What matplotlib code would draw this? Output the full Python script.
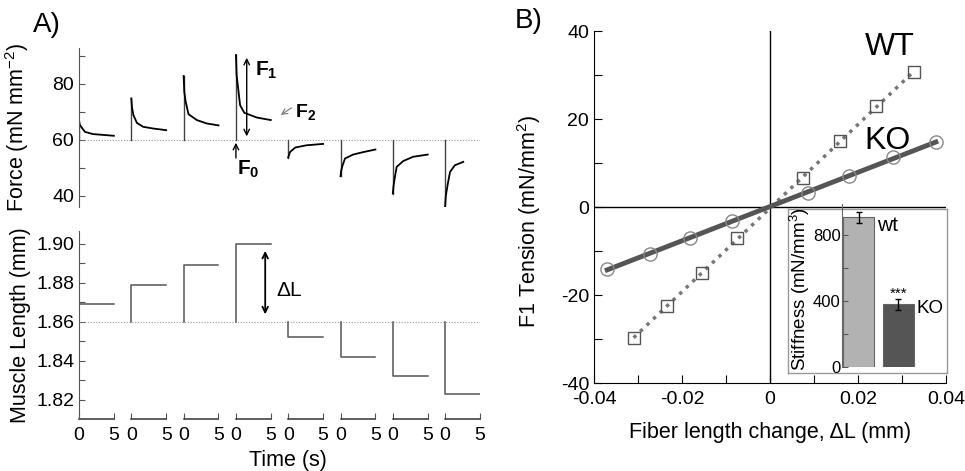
import matplotlib
matplotlib.use("Agg")
import matplotlib.pyplot as plt
import numpy as np

plt.rcParams["font.family"] = ["Liberation Sans", "DejaVu Sans"]
plt.rcParams["mathtext.fontset"] = "custom"
plt.rcParams["mathtext.rm"] = "Liberation Sans"
plt.rcParams["mathtext.bf"] = "Liberation Sans:bold"
plt.rcParams["mathtext.default"] = "regular"
plt.rcParams["axes.unicode_minus"] = False

# panel A: force transients (time s, force mN mm-2), one list per length step
force_base = 60.0
force_peak = [66.6, 74.7, 82.7, 90.2, 53.6, 47.0, 40.8, 36.3]
force_t = [
    [0.1, 0.25, 0.85, 2.0, 5.0],
    [0.1, 0.3, 0.8, 1.7, 3.1, 5.0],
    [0.1, 0.3, 0.7, 1.9, 3.3, 5.0],
    [0.1, 0.35, 0.6, 1.2, 3.0, 5.0],
    [0.1, 0.26, 1.0, 2.6, 5.0],
    [0.1, 0.3, 0.65, 1.8, 3.3, 5.0],
    [0.1, 0.3, 0.55, 1.5, 2.9, 5.0],
    [0.1, 0.35, 0.7, 1.4, 2.6],
]
force_val = [
    [65.5, 64.8, 62.8, 62.0, 61.4],
    [71.5, 68.8, 66.0, 64.6, 64.0, 63.4],
    [77.0, 73.5, 69.1, 67.0, 65.8, 65.1],
    [83.0, 77.7, 72.3, 69.6, 67.9, 67.0],
    [54.5, 55.6, 57.2, 58.0, 58.5],
    [49.0, 50.9, 53.3, 54.7, 55.6, 56.5],
    [43.5, 46.7, 50.3, 52.4, 53.9, 54.7],
    [40.0, 43.8, 48.5, 50.9, 52.1],
]

# panel A: muscle length steps (mm)
length_base = 1.86
length_step = [1.869, 1.879, 1.889, 1.900, 1.852, 1.842, 1.832, 1.823]
step_dur = 5.0

# panel B: F1 tension vs fibre length change
wt_dl = [-0.031, -0.0233, -0.0154, -0.0075, 0.0076, 0.0158, 0.0242, 0.0328]
wt_f1 = [-29.8, -22.5, -14.9, -7.1, 6.7, 15.0, 23.0, 30.6]
ko_dl = [-0.037, -0.0273, -0.0182, -0.0086, 0.0086, 0.018, 0.028, 0.0377]
ko_f1 = [-14.0, -10.7, -7.1, -3.1, 3.1, 7.0, 11.3, 14.8]

# inset: stiffness (mN/mm3)
groups = ["wt", "KO"]
stiffness = [907, 380]
stiffness_err = [33, 33]

W, H = 965, 471


def rect(left, top, right, bottom):
    return [left / W, 1 - bottom / H, (right - left) / W, (bottom - top) / H]


fig = plt.figure(figsize=(9.65, 4.71), dpi=100)
gap = 7.5
offsets = [k * gap for k in range(len(length_step))]
xmax = offsets[-1] + step_dur

# --- A top: force
ax1 = fig.add_axes(rect(79, 48, 480, 207))
ax1.axhline(force_base, color="#999999", lw=0.8, ls=(0, (1, 1.5)))
for x0, peak, tt, ff in zip(offsets, force_peak, force_t, force_val):
    ax1.plot([x0, x0], [force_base, peak], color="#444444", lw=1.0)
    ax1.plot([x0] + [x0 + t for t in tt], [peak] + ff, color="black", lw=1.3)
ax1.set_xlim(0, xmax)
ax1.set_ylim(36, 92.7)
ax1.set_yticks([40, 60, 80])
ax1.set_yticks([50, 70, 90], minor=True)
ax1.tick_params(axis="y", which="both", direction="in", labelsize=14, length=4, width=0.8, color="#555555")
ax1.set_xticks([])
for s in ["top", "right", "bottom"]:
    ax1.spines[s].set_visible(False)
ax1.spines["left"].set_color("#555555")
ax1.set_ylabel("Force (mN mm$^{-2}$)", fontsize=15.5)
ax1.yaxis.set_label_coords(-0.12, 0.5)

ax1.annotate("", xy=(24.05, 90.2), xytext=(24.05, 60.2),
             arrowprops=dict(arrowstyle="<->", lw=1.0, color="black"))
ax1.text(25.3, 84.8, r"$\mathbf{F_1}$", fontsize=15, va="center", ha="left")
ax1.annotate("", xy=(28.6, 68.3), xytext=(30.8, 71.9),
             arrowprops=dict(arrowstyle="->", lw=0.8, color="#777777"))
ax1.text(31.0, 70.0, r"$\mathbf{F_2}$", fontsize=14, va="center", ha="left")
ax1.annotate("", xy=(22.5, 59.9), xytext=(22.5, 52.5),
             arrowprops=dict(arrowstyle="->", lw=1.0, color="black"))
ax1.text(22.6, 49.6, r"$\mathbf{F_0}$", fontsize=15, va="center", ha="left")

# --- A bottom: muscle length
ax2 = fig.add_axes(rect(79, 231, 480, 419))
ax2.axhline(length_base, color="#999999", lw=0.8, ls=(0, (1, 1.5)))
for x0, lvl in zip(offsets, length_step):
    ax2.plot([x0, x0, x0 + step_dur], [length_base, lvl, lvl], color="#555555", lw=1.1)
    ax2.plot([x0, x0 + step_dur], [0, 0], color="#333333", lw=1.1,
             transform=ax2.get_xaxis_transform(), clip_on=False)
ax2.set_xlim(0, xmax)
ax2.set_ylim(1.81, 1.9065)
ax2.set_yticks([1.82, 1.84, 1.86, 1.88, 1.90])
ax2.set_yticklabels(["1.82", "1.84", "1.86", "1.88", "1.90"])
ax2.set_yticks([1.83, 1.85, 1.87, 1.89], minor=True)
xt = []
for x0 in offsets:
    xt += [x0, x0 + step_dur]
ax2.set_xticks(xt)
ax2.set_xticklabels(["0", "5"] * len(offsets))
ax2.tick_params(axis="both", which="both", direction="in", labelsize=14, length=4, width=0.8, color="#555555")
ax2.tick_params(axis="x", pad=6)
for s in ["top", "right", "bottom"]:
    ax2.spines[s].set_visible(False)
ax2.spines["left"].set_color("#555555")
ax2.set_ylabel("Muscle Length (mm)", fontsize=15.5)
ax2.yaxis.set_label_coords(-0.12, 0.5)
ax2.set_xlabel("Time (s)", fontsize=15.5)
ax2.xaxis.set_label_coords(0.52, -0.165)
ax2.annotate("", xy=(26.7, 1.8977), xytext=(26.7, 1.8623),
             arrowprops=dict(arrowstyle="<->", lw=1.3, color="black"))
ax2.text(28.3, 1.8762, "ΔL", fontsize=15, va="center", ha="left")

# --- B: F1 tension vs length change
ax3 = fig.add_axes(rect(594, 31, 946, 383))
ax3.axhline(0, color="black", lw=1.0, zorder=1)
ax3.axvline(0, color="black", lw=1.0, zorder=1)
wt_fit = np.polyfit(wt_dl, wt_f1, 1)
ko_fit = np.polyfit(ko_dl, ko_f1, 1)
xw = np.array([min(wt_dl), max(wt_dl)])
xk = np.array([min(ko_dl), max(ko_dl)])
ax3.plot(xw, np.polyval(wt_fit, xw), color="#777777", lw=2.5, ls=(0, (1, 1.6)), zorder=2)
ax3.plot(xk, np.polyval(ko_fit, xk), color="#555555", lw=3.5, zorder=2)
ax3.plot(wt_dl, wt_f1, ls="none", marker="s", ms=9, mfc="none", mec="#555555", mew=1.0, zorder=3)
ax3.plot(ko_dl, ko_f1, ls="none", marker="o", ms=9.5, mfc="none", mec="#888888", mew=1.0, zorder=3)
ax3.set_xlim(-0.04, 0.04)
ax3.set_ylim(-40, 40)
ax3.set_xticks([-0.04, -0.02, 0, 0.02, 0.04])
ax3.set_xticklabels(["-0.04", "-0.02", "0", "0.02", "0.04"])
ax3.set_xticks([-0.03, -0.01, 0.01, 0.03], minor=True)
ax3.set_yticks([-40, -20, 0, 20, 40])
ax3.set_yticklabels(["-40", "-20", "0", "20", "40"])
ax3.set_yticks([-30, -10, 10, 30], minor=True)
ax3.tick_params(axis="both", which="both", direction="in", labelsize=14, length=6, width=0.8)
ax3.tick_params(axis="x", pad=6)
for s in ["top", "right"]:
    ax3.spines[s].set_visible(False)
ax3.set_ylabel("F1 Tension (mN/mm$^2$)", fontsize=15.5)
ax3.yaxis.set_label_coords(-0.145, 0.46)
ax3.set_xlabel("Fiber length change, ΔL (mm)", fontsize=15.5, labelpad=10)
ax3.text(0.0215, 36.4, "WT", fontsize=23, va="center", ha="left")
ax3.text(0.0215, 15.0, "KO", fontsize=23, va="center", ha="left")

# --- inset: stiffness
frame = fig.add_axes(rect(788, 209, 947, 373))
frame.set_xticks([])
frame.set_yticks([])
for s in frame.spines.values():
    s.set_color("#999999")
    s.set_linewidth(1.0)
frame.set_zorder(4)

ax4 = fig.add_axes(rect(842, 204, 918, 367))
ax4.set_zorder(5)
ax4.patch.set_alpha(0)
xb = np.arange(len(groups))
ax4.bar(xb, stiffness, width=0.785, color=["#b2b2b2", "#555555"], edgecolor="#666666", lw=0.8)
ax4.errorbar(xb, stiffness, yerr=stiffness_err, fmt="none", ecolor="black", elinewidth=1.0, capsize=2.5)
ax4.set_xlim(-0.418, 1.5)
ax4.set_ylim(0, 988)
ax4.set_yticks([0, 400, 800])
ax4.set_yticks([200, 600], minor=True)
ax4.set_xticks([])
ax4.tick_params(axis="y", which="both", direction="in", labelsize=12, length=4, width=0.8, pad=1, color="#555555")
for s in ["top", "right", "bottom"]:
    ax4.spines[s].set_visible(False)
ax4.spines["left"].set_color("#666666")
ax4.set_ylabel("Stiffness (mN/mm$^3$)", fontsize=13.5)
ax4.yaxis.set_label_coords(-0.395, 0.48)
ax4.text(0.47, 860, groups[0], fontsize=15, va="center", ha="left")
ax4.text(1.47, 355, groups[1], fontsize=13.5, va="center", ha="left")
ax4.text(1.0, 445, "***", fontsize=11, va="center", ha="center")

fig.text(33 / W, 1 - 12 / H, "A)", fontsize=20, va="top", ha="left")
fig.text(515 / W, 1 - 8 / H, "B)", fontsize=20, va="top", ha="left")

fig.savefig("out.png", dpi=100)
